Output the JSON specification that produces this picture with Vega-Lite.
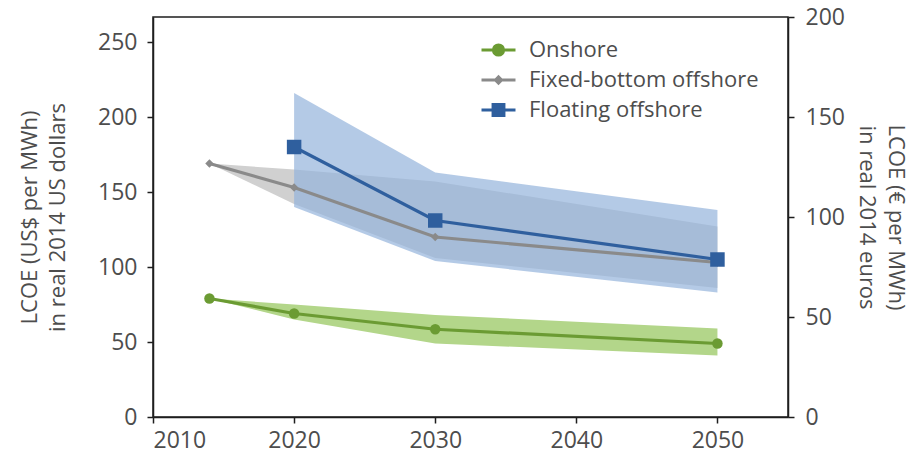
{
  "$schema": "https://vega.github.io/schema/vega-lite/v6.json",
  "width": 635,
  "height": 400,
  "autosize": "none",
  "padding": {"left": 153, "top": 17, "right": 125, "bottom": 38},
  "background": "white",
  "config": {
    "view": {"stroke": "#1e1e1e", "strokeWidth": 1.5},
    "font": "Open Sans",
    "axis": {
      "grid": false,
      "domainColor": "#1e1e1e",
      "domainWidth": 1.5,
      "tickColor": "#1e1e1e",
      "tickWidth": 1.5,
      "tickSize": 6,
      "labelFont": "Open Sans",
      "labelFontSize": 23,
      "labelColor": "#4d4d4d",
      "titleFont": "Open Sans",
      "titleFontSize": 22,
      "titleFontWeight": "normal",
      "titleColor": "#4d4d4d"
    }
  },
  "datasets": {
    "lcoe": [
      {"series": "Onshore", "year": 2014, "value": 79, "lo": 79, "hi": 79},
      {"series": "Onshore", "year": 2020, "value": 69, "lo": 65, "hi": 75},
      {"series": "Onshore", "year": 2030, "value": 58.5, "lo": 49, "hi": 68},
      {"series": "Onshore", "year": 2050, "value": 49, "lo": 41, "hi": 59},
      {"series": "Fixed-bottom offshore", "year": 2014, "value": 169, "lo": 169, "hi": 169},
      {"series": "Fixed-bottom offshore", "year": 2020, "value": 153, "lo": 142, "hi": 165},
      {"series": "Fixed-bottom offshore", "year": 2030, "value": 120, "lo": 106, "hi": 157},
      {"series": "Fixed-bottom offshore", "year": 2050, "value": 103, "lo": 86, "hi": 127},
      {"series": "Floating offshore", "year": 2020, "value": 180, "lo": 140, "hi": 216},
      {"series": "Floating offshore", "year": 2030, "value": 131, "lo": 104, "hi": 163},
      {"series": "Floating offshore", "year": 2050, "value": 105, "lo": 83, "hi": 138}
    ],
    "euroAxis": [{"eur": 0}, {"eur": 200}]
  },
  "layer": [
    {
      "data": {"name": "lcoe"},
      "layer": [
        {
          "transform": [{"filter": "datum.series === 'Fixed-bottom offshore'"}],
          "mark": {"type": "area", "color": "#d0d0d0", "opacity": 1},
          "encoding": {
            "x": {
              "field": "year",
              "type": "quantitative",
              "scale": {"domain": [2010, 2055], "nice": false, "zero": false},
              "axis": {"values": [2010, 2020, 2030, 2040, 2050], "format": "d", "title": null, "labelPadding": 6}
            },
            "y": {
              "field": "lo",
              "type": "quantitative",
              "scale": {"domain": [0, 266.67], "nice": false},
              "axis": {
                "values": [0, 50, 100, 150, 200, 250],
                "labelPadding": 10,
                "titlePadding": 28,
                "titleLineHeight": 28,
                "title": ["LCOE (US$ per MWh)", "in real 2014 US dollars"]
              }
            },
            "y2": {"field": "hi"}
          }
        },
        {
          "transform": [{"filter": "datum.series === 'Floating offshore'"}],
          "mark": {"type": "area", "color": "#94b3db", "opacity": 0.7},
          "encoding": {
            "x": {"field": "year", "type": "quantitative"},
            "y": {"field": "lo", "type": "quantitative"},
            "y2": {"field": "hi"}
          }
        },
        {
          "transform": [{"filter": "datum.series === 'Onshore'"}],
          "mark": {"type": "area", "color": "#b3d68a", "opacity": 1},
          "encoding": {
            "x": {"field": "year", "type": "quantitative"},
            "y": {"field": "lo", "type": "quantitative"},
            "y2": {"field": "hi"}
          }
        },
        {
          "mark": {"type": "line", "strokeWidth": 3.2},
          "encoding": {
            "x": {"field": "year", "type": "quantitative"},
            "y": {"field": "value", "type": "quantitative"},
            "color": {
              "field": "series",
              "type": "nominal",
              "scale": {
                "domain": ["Onshore", "Fixed-bottom offshore", "Floating offshore"],
                "range": ["#6b9b33", "#8a8a8a", "#2f5f9e"]
              },
              "legend": {
                "title": null,
                "orient": "none",
                "legendX": 327,
                "legendY": 18,
                "symbolSize": 1156,
                "clipHeight": 30,
                "labelFont": "Open Sans",
                "labelFontSize": 22,
                "labelColor": "#4d4d4d",
                "labelLimit": 400,
                "labelOffset": 12,
                "rowPadding": 0,
                "padding": 0,
                "encoding": {
                  "symbols": {
                    "shape": {"value": {"expr": "datum.value === 'Onshore' ? 'M-1,0H1M-0.3,0A0.3,0.3,0,1,0,0.3,0A0.3,0.3,0,1,0,-0.3,0Z' : datum.value === 'Fixed-bottom offshore' ? 'M-1,0H1M-0.18,0L0,-0.18L0.18,0L0,0.18Z' : 'M-1,0H1M-0.32,-0.32H0.32V0.32H-0.32Z'"}},
                    "fill": {"value": {"expr": "scale('color', datum.value)"}},
                    "stroke": {"value": {"expr": "scale('color', datum.value)"}},
                    "strokeWidth": {"value": 3},
                    "size": {"value": 1156},
                    "opacity": {"value": 1}
                  }
                }
              }
            }
          }
        },
        {
          "transform": [{"filter": "datum.series === 'Onshore'"}],
          "mark": {"type": "point", "shape": "circle", "filled": true, "opacity": 1, "size": 110},
          "encoding": {
            "x": {"field": "year", "type": "quantitative"},
            "y": {"field": "value", "type": "quantitative"},
            "color": {"field": "series", "type": "nominal"}
          }
        },
        {
          "transform": [{"filter": "datum.series === 'Fixed-bottom offshore'"}],
          "mark": {"type": "point", "shape": "diamond", "filled": true, "opacity": 1, "size": 70},
          "encoding": {
            "x": {"field": "year", "type": "quantitative"},
            "y": {"field": "value", "type": "quantitative"},
            "color": {"field": "series", "type": "nominal"}
          }
        },
        {
          "transform": [{"filter": "datum.series === 'Floating offshore'"}],
          "mark": {"type": "point", "shape": "square", "filled": true, "opacity": 1, "size": 210},
          "encoding": {
            "x": {"field": "year", "type": "quantitative"},
            "y": {"field": "value", "type": "quantitative"},
            "color": {"field": "series", "type": "nominal"}
          }
        }
      ]
    },
    {
      "data": {"name": "euroAxis"},
      "mark": {"type": "point", "opacity": 0},
      "encoding": {
        "y": {
          "field": "eur",
          "type": "quantitative",
          "scale": {"domain": [0, 200], "nice": false},
          "axis": {
            "orient": "right",
            "values": [0, 50, 100, 150, 200],
            "labelPadding": 11,
            "titlePadding": 10,
            "titleLineHeight": 29,
            "title": ["LCOE (€ per MWh)", "in real 2014 euros"]
          }
        }
      }
    }
  ],
  "resolve": {"scale": {"y": "independent"}}
}
